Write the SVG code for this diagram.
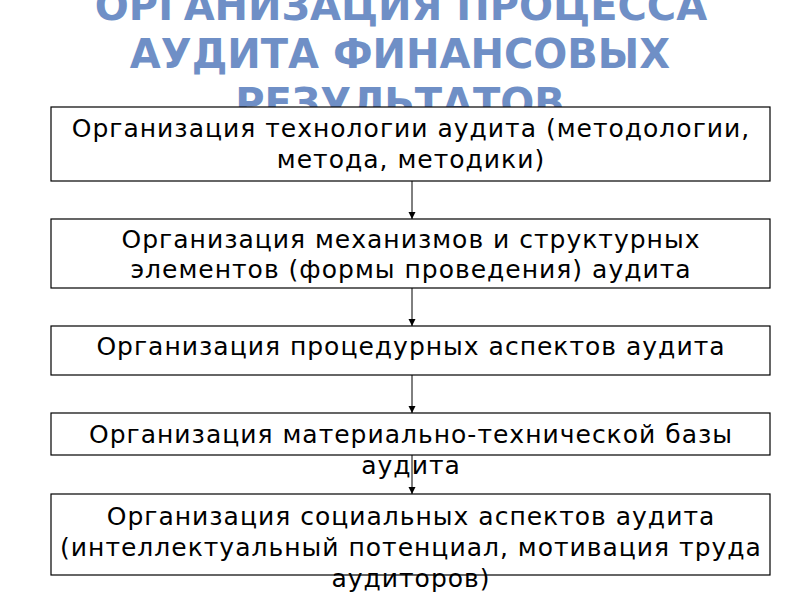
<svg xmlns="http://www.w3.org/2000/svg" width="800" height="600" viewBox="0 0 800 600">
<style>
.title{font-family:"DejaVu Sans",sans-serif;font-weight:bold;font-size:40px;fill:#6f8fc6;text-anchor:middle}
.box{fill:#fff;stroke:#000;stroke-width:1.2}
.t{font-family:"DejaVu Sans",sans-serif;font-size:25px;letter-spacing:1px;fill:#000;text-anchor:middle}
.conn{stroke:#000;stroke-width:1;fill:none}
</style>
<defs>
<marker id="ah" markerWidth="8" markerHeight="8" refX="7" refY="4" orient="auto" markerUnits="userSpaceOnUse">
<path d="M0,0.5 L7,4 L0,7.5 Z" fill="#000"/>
</marker>
</defs>
<rect width="800" height="600" fill="#fff"/>
<g id="title">
<text class="title" x="401" y="20">ОРГАНИЗАЦИЯ ПРОЦЕССА</text>
<text class="title" x="400" y="68">АУДИТА ФИНАНСОВЫХ</text>
<text class="title" x="400" y="117">РЕЗУЛЬТАТОВ</text>
</g>
<g id="connectors">
<line class="conn" x1="412" y1="181" x2="412" y2="219" marker-end="url(#ah)"/>
<line class="conn" x1="412" y1="288" x2="412" y2="326" marker-end="url(#ah)"/>
<line class="conn" x1="412" y1="375" x2="412" y2="413" marker-end="url(#ah)"/>
<line class="conn" x1="412" y1="455" x2="412" y2="494" marker-end="url(#ah)"/>
</g>
<g id="node1">
<rect class="box" x="51" y="107" width="719" height="74"/>
<text class="t" x="411" y="137">Организация технологии аудита (методологии,</text>
<text class="t" x="411" y="168">метода, методики)</text>
</g>
<g id="node2">
<rect class="box" x="51" y="219" width="719" height="69"/>
<text class="t" x="411" y="248">Организация механизмов и структурных</text>
<text class="t" x="411" y="278">элементов (формы проведения) аудита</text>
</g>
<g id="node3">
<rect class="box" x="51" y="326" width="719" height="49"/>
<text class="t" x="411" y="355">Организация процедурных аспектов аудита</text>
</g>
<g id="node4">
<rect class="box" x="51" y="413" width="719" height="42"/>
<text class="t" x="411" y="443">Организация материально-технической базы</text>
<text class="t" x="411" y="474">аудита</text>
</g>
<g id="node5">
<rect class="box" x="51" y="494" width="719" height="81"/>
<text class="t" x="411" y="525">Организация социальных аспектов аудита</text>
<text class="t" x="411" y="556">(интеллектуальный потенциал, мотивация труда</text>
<text class="t" x="411" y="587">аудиторов)</text>
</g>
</svg>
